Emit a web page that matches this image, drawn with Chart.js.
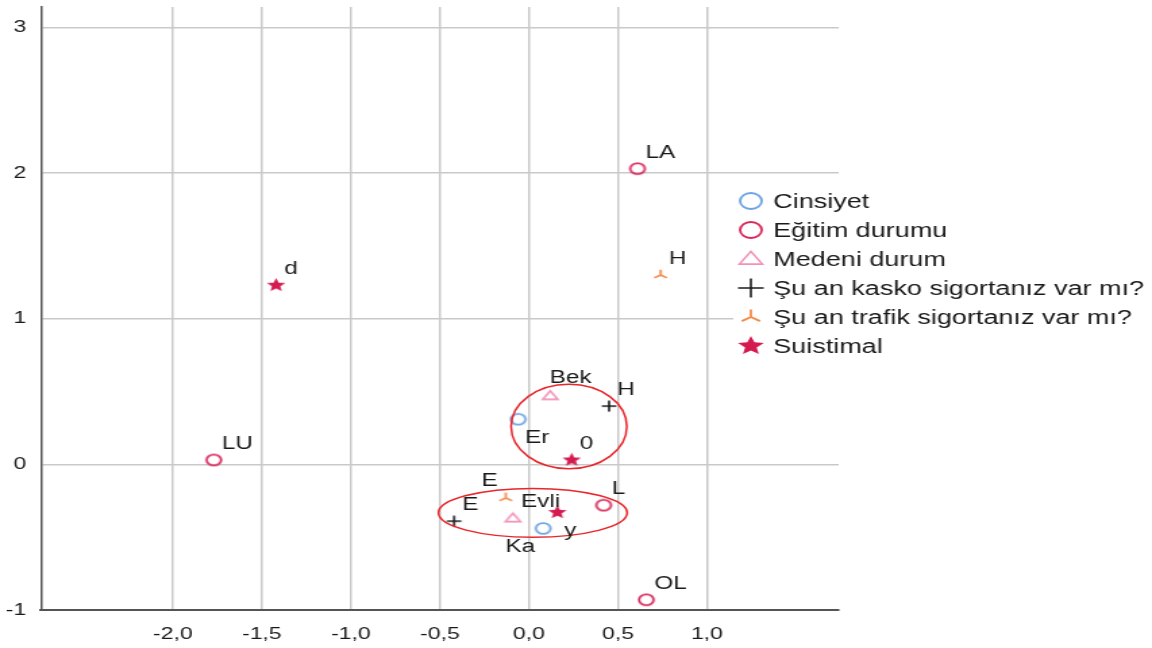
<!DOCTYPE html>
<html>
<head>
<meta charset="utf-8">
<script src="https://cdn.jsdelivr.net/npm/chart.js@4"></script>
<style>
  html, body { margin: 0; background: #fff; }
  canvas { display: block; }
</style>
</head>
<body>
<canvas id="plot" width="853" height="648" style="width:1152px;height:648px"></canvas>
<script>
// Category quantifications (dimension 1, dimension 2)
const seriesNames = [
  'Cinsiyet',
  'Eğitim durumu',
  'Medeni durum',
  'Şu an kasko sigortanız var mı?',
  'Şu an trafik sigortanız var mı?',
  'Suistimal'
];

const cinsiyetX = [-0.06, 0.08];
const cinsiyetY = [0.31, -0.44];
const cinsiyetLabels = ['Er', 'Ka'];

const egitimX = [0.61, -1.77, 0.42, 0.66];
const egitimY = [2.03, 0.03, -0.28, -0.93];
const egitimLabels = ['LA', 'LU', 'L', 'OL'];

const medeniX = [0.12, -0.09];
const medeniY = [0.47, -0.37];
const medeniLabels = ['Bek', 'Evli'];

const kaskoX = [0.45, -0.42];
const kaskoY = [0.40, -0.39];
const kaskoLabels = ['H', 'E'];

const trafikX = [0.74, -0.13];
const trafikY = [1.30, -0.23];
const trafikLabels = ['H', 'E'];

const suistimalX = [-1.42, 0.24, 0.16];
const suistimalY = [1.23, 0.03, -0.33];
const suistimalLabels = ['d', '0', 'y'];

const xTicks = [-2.0, -1.5, -1.0, -0.5, 0.0, 0.5, 1.0];
const yTicks = [-1, 0, 1, 2, 3];
const xRange = [-2.74, 1.74];
const yRange = [-1, 3.14];

// Hand-drawn groupings (centre and radii in axis units)
const rings = [
  { cx: 0.225, cy: 0.26, rx: 0.325, ry: 0.29 },
  { cx: 0.022, cy: -0.333, rx: 0.53, ry: 0.168 }
];

// Where each point label sits relative to its marker
const labelSide = [
  ['se', 'sw'],
  ['ne', 'ne', 'ne', 'ne'],
  ['n', 'ne'],
  ['ne', 'ne'],
  ['ne', 'nw'],
  ['ne', 'ne', 'se']
];

const FONT = '"Liberation Sans", Arial, sans-serif';
const colors = ['#6fa3e6', '#d9285b', '#f391b9', '#1c1c1c', '#f58a4b', '#d41a4f'];
const kinds = ['circle', 'circle', 'triangle', 'plus', 'tri', 'star'];

function drawMarker(ctx, kind, x, y, r, color, lw) {
  ctx.save();
  ctx.strokeStyle = color;
  ctx.fillStyle = color;
  ctx.lineWidth = lw;
  ctx.beginPath();
  if (kind === 'circle') {
    ctx.arc(x, y, r, 0, Math.PI * 2);
    ctx.stroke();
  } else if (kind === 'triangle') {
    const h = r * 1.5;
    ctx.moveTo(x, y - h * 0.6);
    ctx.lineTo(x + r, y + h * 0.4);
    ctx.lineTo(x - r, y + h * 0.4);
    ctx.closePath();
    ctx.stroke();
  } else if (kind === 'plus') {
    ctx.moveTo(x - r, y); ctx.lineTo(x + r, y);
    ctx.moveTo(x, y - r); ctx.lineTo(x, y + r);
    ctx.stroke();
  } else if (kind === 'tri') {
    ctx.moveTo(x, y); ctx.lineTo(x, y - r);
    ctx.moveTo(x, y); ctx.lineTo(x - r * 0.9, y + r * 0.55);
    ctx.moveTo(x, y); ctx.lineTo(x + r * 0.9, y + r * 0.55);
    ctx.stroke();
  } else if (kind === 'star') {
    const inner = r * 0.45;
    for (let i = 0; i < 10; i++) {
      const a = -Math.PI / 2 + i * Math.PI / 5;
      const rr = i % 2 === 0 ? r : inner;
      const px = x + rr * Math.cos(a), py = y + rr * Math.sin(a);
      if (i === 0) ctx.moveTo(px, py); else ctx.lineTo(px, py);
    }
    ctx.closePath();
    ctx.fill();
  }
  ctx.restore();
}

function markerImage(kind, r, color, lw) {
  const size = Math.ceil(2 * (r + lw)) + 2;
  const c = document.createElement('canvas');
  c.width = size; c.height = size;
  drawMarker(c.getContext('2d'), kind, size / 2, size / 2, r, color, lw);
  return c;
}

const plotSizes = { circle: [5.4, 1.8], triangle: [5.6, 1.6], plus: [5.4, 1.6], tri: [5.2, 1.7], star: [7.2, 1] };
const legendSizes = { circle: [8, 1.8], triangle: [8.5, 1.6], plus: [9.5, 1.6], tri: [7.5, 1.8], star: [10, 1] };

const xs = [cinsiyetX, egitimX, medeniX, kaskoX, trafikX, suistimalX];
const ys = [cinsiyetY, egitimY, medeniY, kaskoY, trafikY, suistimalY];
const pointLabels = [cinsiyetLabels, egitimLabels, medeniLabels, kaskoLabels, trafikLabels, suistimalLabels];

const datasets = seriesNames.map((name, i) => {
  const [r, lw] = plotSizes[kinds[i]];
  return {
    label: name,
    data: xs[i].map((x, j) => ({ x, y: ys[i][j] })),
    pointStyle: markerImage(kinds[i], r, colors[i], lw),
    pointRadius: 6,
    pointHoverRadius: 6,
    showLine: false
  };
});

const ringPlugin = {
  id: 'rings',
  afterDatasetsDraw(chart) {
    const { ctx, scales: { x, y } } = chart;
    ctx.save();
    ctx.strokeStyle = '#e8262b';
    ctx.lineWidth = 1.5;
    rings.forEach(g => {
      const cx = x.getPixelForValue(g.cx), cy = y.getPixelForValue(g.cy);
      const rx = Math.abs(x.getPixelForValue(g.cx + g.rx) - cx);
      const ry = Math.abs(y.getPixelForValue(g.cy + g.ry) - cy);
      ctx.beginPath();
      ctx.ellipse(cx, cy, rx, ry, 0, 0, Math.PI * 2);
      ctx.stroke();
    });
    ctx.restore();
  }
};

const labelPlugin = {
  id: 'pointLabels',
  afterDatasetsDraw(chart) {
    const ctx = chart.ctx;
    ctx.save();
    ctx.font = '18px ' + FONT;
    ctx.fillStyle = '#1a1a1a';
    ctx.textBaseline = 'middle';
    chart.data.datasets.forEach((ds, i) => {
      chart.getDatasetMeta(i).data.forEach((pt, j) => {
        const side = labelSide[i][j];
        let tx = pt.x, ty = pt.y;
        if (side === 'ne') { ctx.textAlign = 'left'; tx += 6; ty -= 16; }
        else if (side === 'nw') { ctx.textAlign = 'right'; tx -= 6; ty -= 17; }
        else if (side === 'se') { ctx.textAlign = 'left'; tx += 5; ty += 19; }
        else if (side === 'sw') { ctx.textAlign = 'right'; tx -= 6; ty += 19; }
        else if (side === 'n') { ctx.textAlign = 'center'; tx += 15; ty -= 18; }
        ctx.fillText(pointLabels[i][j], tx, ty);
      });
    });
    ctx.restore();
  }
};

const legendPlugin = {
  id: 'sideLegend',
  afterDraw(chart) {
    const ctx = chart.ctx;
    ctx.save();
    ctx.fillStyle = '#fff';
    ctx.fillRect(543, 186, 320, 175);
    ctx.font = '20px ' + FONT;
    ctx.fillStyle = '#1a1a1a';
    ctx.textAlign = 'left';
    ctx.textBaseline = 'middle';
    seriesNames.forEach((name, i) => {
      const rowY = 201 + i * 29;
      const [r, lw] = legendSizes[kinds[i]];
      drawMarker(ctx, kinds[i], 556, rowY, r, colors[i], lw);
      ctx.fillText(name, 572.5, rowY + 1);
    });
    ctx.restore();
  }
};

const axisCommon = {
  type: 'linear',
  grid: { color: '#c9c9c9', lineWidth: 1.5, drawTicks: false },
  ticks: { font: { family: FONT, size: 17 }, color: '#1a1a1a', autoSkip: false, maxRotation: 0 }
};

new Chart(document.getElementById('plot'), {
  type: 'scatter',
  data: { datasets },
  options: {
    responsive: false,
    devicePixelRatio: 1,
    animation: false,
    events: [],
    layout: { padding: { top: 5, right: 232, left: 0, bottom: 0 } },
    plugins: { legend: { display: false }, tooltip: { enabled: false } },
    scales: {
      x: {
        ...axisCommon,
        min: xRange[0], max: xRange[1],
        border: { color: '#555', width: 2 },
        ticks: { ...axisCommon.ticks, padding: 14, callback: v => v.toFixed(1).replace('.', ',') },
        afterBuildTicks: s => { s.ticks = xTicks.map(v => ({ value: v })); },
        afterFit: s => { s.height = 38; s.paddingLeft = 0; s.paddingRight = 0; }
      },
      y: {
        ...axisCommon,
        min: yRange[0], max: yRange[1],
        border: { color: '#555', width: 1.5 },
        ticks: { ...axisCommon.ticks, padding: 11, callback: v => String(v) },
        afterBuildTicks: s => { s.ticks = yTicks.map(v => ({ value: v })); },
        afterFit: s => { s.width = 30.4; s.paddingTop = 0; s.paddingBottom = 0; }
      }
    }
  },
  plugins: [ringPlugin, labelPlugin, legendPlugin]
});
</script>
</body>
</html>
